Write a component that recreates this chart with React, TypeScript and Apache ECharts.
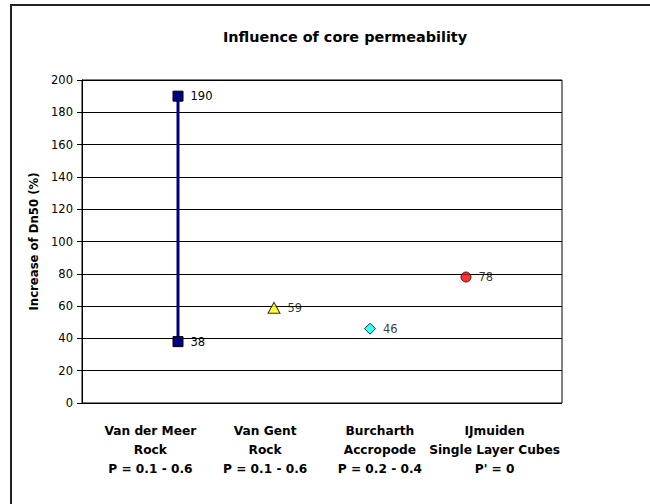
import React, { useEffect, useRef } from "react";
import * as echarts from "echarts";

const categories = [
  "Van der Meer\nRock\nP = 0.1 - 0.6",
  "Van Gent\nRock\nP = 0.1 - 0.6",
  "Burcharth\nAccropode\nP = 0.2 - 0.4",
  "IJmuiden\nSingle Layer Cubes\nP' = 0",
];
const vanDerMeerRange = [38, 190];
const vanGent = [59];
const burcharth = [46];
const ijmuiden = [78];
const yTicks = { min: 0, max: 200, interval: 20 };

const FONT = "'DejaVu Sans', 'Liberation Sans', Arial, sans-serif";

export default function App() {
  const ref = useRef<HTMLDivElement>(null);
  useEffect(() => {
    if (!ref.current) return;
    const chart = echarts.init(ref.current, null, { renderer: "svg" });
    const labelStyle = {
      show: true,
      position: "right" as const,
      distance: 7,
      color: "#000",
      fontSize: 11.5,
      fontFamily: FONT,
      formatter: (p: any) => String(p.value[1]),
    };
    const option = {
      animation: false,
      backgroundColor: "#fff",
      title: {
        text: "Influence of core permeability",
        left: 340,
        top: 25,
        textAlign: "center",
        textStyle: { fontSize: 14.4, fontWeight: "bold", color: "#000", fontFamily: FONT },
      },
      graphic: [
        {
          type: "rect",
          shape: { x: 11, y: 5, width: 760, height: 640 },
          style: { fill: "none", stroke: "#222", lineWidth: 2 },
          silent: true,
          z: -1,
        },
      ],
      grid: [
        {
          left: 82, top: 80, width: 480, height: 323,
          show: true, borderColor: "#000", borderWidth: 1, backgroundColor: "transparent",
        },
        { left: 93, top: 80, width: 459, height: 323, show: false },
      ],
      xAxis: [
        {
          type: "value", gridIndex: 0, min: 0, max: categories.length + 1,
          show: false, splitLine: { show: false },
        },
        {
          type: "category", gridIndex: 1, data: categories,
          axisLine: { show: false }, axisTick: { show: false }, splitLine: { show: false },
          axisLabel: {
            interval: 0, margin: 18, color: "#000", fontSize: 12.2, fontWeight: "bold",
            fontFamily: FONT, lineHeight: 19,
          },
        },
      ],
      yAxis: [
        {
          type: "value", gridIndex: 0, min: yTicks.min, max: yTicks.max, interval: yTicks.interval,
          name: "Increase of Dn50 (%)", nameLocation: "middle", nameGap: 41, nameRotate: 90,
          nameTextStyle: { fontSize: 11.7, fontWeight: "bold", color: "#000", fontFamily: FONT },
          axisLine: { show: true, lineStyle: { color: "#000", width: 1 } },
          axisTick: { show: true, length: 5, lineStyle: { color: "#000" } },
          axisLabel: { color: "#000", fontSize: 11.5, fontFamily: FONT, margin: 9 },
          splitLine: { show: true, lineStyle: { color: "#000", width: 1 } },
        },
        { type: "value", gridIndex: 1, min: 0, max: 200, show: false, splitLine: { show: false } },
      ],
      series: [
        {
          type: "line", xAxisIndex: 0, yAxisIndex: 0,
          data: vanDerMeerRange.map((v) => [1, v]),
          symbol: "rect", symbolSize: 10,
          lineStyle: { color: "#000080", width: 3 },
          itemStyle: { color: "#000080", borderColor: "#000", borderWidth: 1 },
          label: labelStyle,
          z: 3,
        },
        {
          type: "scatter", xAxisIndex: 0, yAxisIndex: 0,
          data: vanGent.map((v) => [2, v]),
          symbol: "triangle", symbolSize: [12, 11],
          itemStyle: { color: "#ffff00", borderColor: "#000", borderWidth: 1 },
          label: labelStyle,
          z: 3,
        },
        {
          type: "scatter", xAxisIndex: 0, yAxisIndex: 0,
          data: burcharth.map((v) => [3, v]),
          symbol: "diamond", symbolSize: [11, 11],
          itemStyle: { color: "#00ffff", borderColor: "#000", borderWidth: 1 },
          label: labelStyle,
          z: 3,
        },
        {
          type: "scatter", xAxisIndex: 0, yAxisIndex: 0,
          data: ijmuiden.map((v) => [4, v]),
          symbol: "circle", symbolSize: 10,
          itemStyle: { color: "#ff0000", borderColor: "#000", borderWidth: 1 },
          label: labelStyle,
          z: 3,
        },
      ],
    };
    chart.setOption(option as any);
    return () => chart.dispose();
  }, []);
  return (
    <div
      ref={ref}
      style={{ position: "fixed", left: 0, top: 0, width: 650, height: 504 }}
    />
  );
}
